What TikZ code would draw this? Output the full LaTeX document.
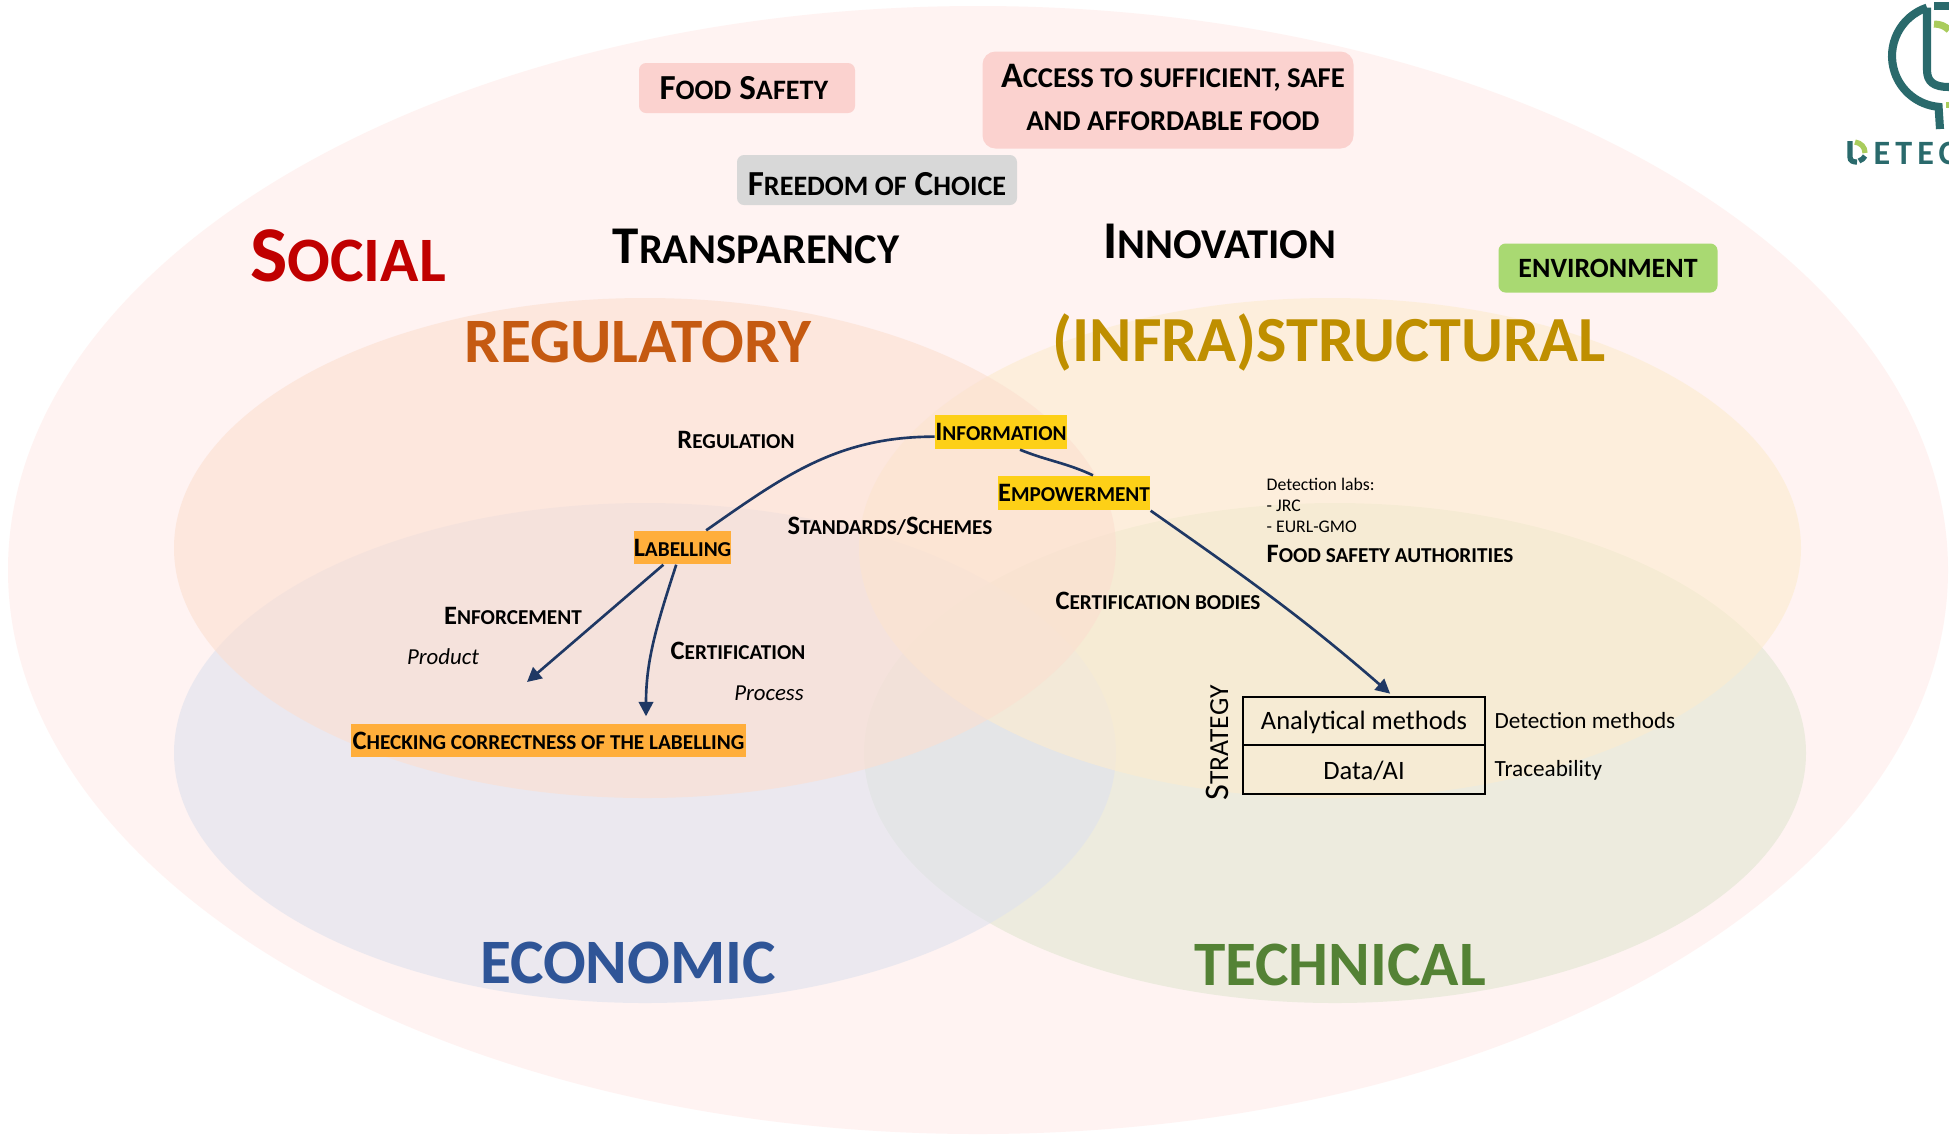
\documentclass[tikz,border=0pt]{standalone}
\usepackage{fontspec}
\setmainfont{Carlito}
\newfontfamily\lowfont[Scale=0.8]{Carlito}
\newfontfamily\logofont[LetterSpace=15]{Carlito}
\usetikzlibrary{arrows.meta}
\definecolor{navy}{HTML}{1F3864}
\definecolor{teal}{HTML}{2A6A6C}
\definecolor{leaf}{HTML}{A9CC5C}
\definecolor{wholeset}{HTML}{FFF3F2}
\definecolor{regset}{HTML}{FCDFD0}
\definecolor{infraset}{HTML}{FDECCE}
\definecolor{econset}{HTML}{DFE2EE}
\definecolor{techset}{HTML}{E1E6D1}
\definecolor{pinkbox}{HTML}{FBD2CF}
\definecolor{greybox}{HTML}{D8D8D8}
\definecolor{greenbox}{HTML}{A9D972}
\definecolor{yellowbox}{HTML}{FDD017}
\definecolor{orangebox}{HTML}{FFAE3B}
\definecolor{socialword}{HTML}{C00000}
\definecolor{regword}{HTML}{C55A11}
\definecolor{infraword}{HTML}{BF8F00}
\definecolor{econword}{HTML}{2F5597}
\definecolor{techword}{HTML}{548235}
\newcommand{\smc}[2]{#1{\lowfont\uppercase{#2}}}
\newcommand{\nudge}[2]{\raisebox{#1}[\height][\depth]{#2}}
\tikzset{
  bigword/.style={font=\bfseries\fontsize{18}{22}\selectfont},
  headword/.style={font=\bfseries\fontsize{15.1}{18}\selectfont},
  pillbox/.style={rounded corners=2pt,inner sep=0pt,font=\bfseries\fontsize{10}{12}\selectfont},
  tagbox/.style={inner sep=0pt,font=\bfseries\fontsize{7.55}{9}\selectfont},
  note/.style={inner sep=0pt,font=\bfseries\fontsize{7.55}{9}\selectfont},
  plainnote/.style={inner sep=0pt,font=\fontsize{5.05}{7}\selectfont},
  sidenote/.style={inner sep=0pt,anchor=west,font=\fontsize{6.6}{8}\selectfont},
  slantnote/.style={inner sep=0pt,font=\itshape\fontsize{6.5}{8}\selectfont},
  cellbox/.style={draw,line width=.45pt,minimum width=242*0.1mm,minimum height=48.5*0.1mm,inner sep=0pt,font=\fontsize{7.55}{9}\selectfont},
  flow/.style={draw=navy,line width=.75pt,-{Triangle[length=4.1pt,width=4.1pt]}},
  link/.style={draw=navy,line width=.75pt}
}
\begin{document}
\begin{tikzpicture}[x=0.1mm,y=-0.1mm]
\useasboundingbox (0,0) rectangle (1949,1135);
% sets
\fill[white] (0,0) rectangle (1949,1135);
\fill[wholeset] (978,570) ellipse [x radius=970,y radius=564];
\fill[techset,fill opacity=.6] (1335,753) ellipse [x radius=471,y radius=250];
\fill[econset,fill opacity=.6] (645,753) ellipse [x radius=471,y radius=250];
\fill[infraset,fill opacity=.6] (1330,548) ellipse [x radius=471,y radius=250];
\fill[regset,fill opacity=.6] (645,548) ellipse [x radius=471,y radius=250];
% logo
\draw[teal,line width=2.3pt] (1927,7.6) arc (-108.3:-265:51) -- (1940,129);
\draw[teal,line width=2.3pt] (1927,7.6) -- (1927,70) .. controls (1927,82) and (1934,87) .. (1949,87);
\draw[teal,line width=2.3pt] (1934,6) -- (1949,6);
\draw[leaf,line width=2pt] (1934,24) .. controls (1940,24) and (1945,26) .. (1949,30);
\draw[leaf,line width=1.2pt] (1948,102) -- (1948,108);
\draw[teal,line width=1.5pt] (1850,141) -- (1850,157) .. controls (1850,161) and (1853,162) .. (1857,162);
\draw[teal,line width=1.5pt] (1859,161) .. controls (1862,160) and (1864,158) .. (1865,156);
\draw[leaf,line width=1.5pt] (1855,142) .. controls (1861,143) and (1865,147) .. (1865,153);
\node[anchor=west,inner sep=0pt,text=teal] (logoword) at (1873,153) {\logofont\bfseries\fontsize{9.7}{12}\selectfont ETEC};
% set names
\node[text=socialword,font=\bfseries\fontsize{22.5}{27}\selectfont] (social) at (348,256) {\smc{S}{ocial}};
\node[bigword,text=regword] (regulatory) at (638,342) {REGULATORY};
\node[bigword,font=\bfseries\fontsize{18.3}{22}\selectfont,text=infraword] (structural) at (1329,342) {(INFRA)STRUCTURAL};
\node[bigword,text=econword] (economic) at (628,963) {ECONOMIC};
\node[bigword,text=techword] (technical) at (1340,965) {TECHNICAL};
\node[headword] (transparency) at (756,246) {\smc{T}{ransparency}};
\node[headword] (innovation) at (1220,241) {\smc{I}{nnovation}};
% boxes on top
\node[pillbox,fill=pinkbox,minimum width=216*0.1mm,minimum height=50*0.1mm] (foodsafety) at (747,88) {\smc{F}{ood} \smc{S}{afety}\hspace*{1.8pt}};
\node[pillbox,fill=pinkbox,rounded corners=3.7pt,minimum width=371*0.1mm,minimum height=97*0.1mm,align=center,font=\bfseries\fontsize{10.2}{12.3}\selectfont] (access) at (1168,100) {\hspace*{2.8pt}\nudge{.7pt}{\smc{A}{ccess to sufficient, safe}}\\\hspace*{2.8pt}\nudge{.7pt}{\smc{}{and affordable food}}};
\node[pillbox,fill=greybox,minimum width=280*0.1mm,minimum height=50*0.1mm] (freedom) at (877,180) {\nudge{-1.05pt}{\smc{F}{reedom of} \smc{C}{hoice}}};
\node[pillbox,fill=greenbox,minimum width=219*0.1mm,minimum height=49*0.1mm,font=\bfseries\fontsize{7.95}{10}\selectfont] (environment) at (1608,268) {ENVIRONMENT};
\node[tagbox,fill=yellowbox,minimum width=130*0.1mm,minimum height=34*0.1mm] (information) at (1001,432) {\smc{I}{nformation}};
\node[tagbox,fill=yellowbox,minimum width=152*0.1mm,minimum height=34*0.1mm] (empowerment) at (1074,493) {\smc{E}{mpowerment}};
\node[tagbox,fill=orangebox,minimum width=97*0.1mm,minimum height=33*0.1mm] (labelling) at (682.5,547.5) {\smc{L}{abelling}};
\node[tagbox,fill=orangebox,minimum width=395*0.1mm,minimum height=33*0.1mm] (checking) at (548.5,740.5) {\smc{C}{hecking correctness of the labelling}};
% notes
\node[note] (regulation) at (736,440) {\smc{R}{egulation}};
\node[note] (standards) at (890,526) {\smc{S}{tandards/}\smc{S}{chemes}};
\node[note] (certification) at (738,651) {\smc{C}{ertification}};
\node[note] (bodies) at (1158,601) {\smc{C}{ertification bodies}};
\node[note] (enforcement) at (513,616) {\smc{E}{nforcement}};
\node[note,anchor=west] (authorities) at (1266,554) {\smc{F}{ood safety authorities}};
\node[slantnote] (product) at (443,657) {Product};
\node[slantnote] (process) at (769,693) {Process};
\node[plainnote,anchor=west] (labs) at (1266,484) {Detection labs:};
\node[plainnote,anchor=west] (jrc) at (1266,506) {- JRC};
\node[plainnote,anchor=west] (eurl) at (1266,527) {- EURL-GMO};
% strategy
\node[cellbox] (analytical) at (1364,721) {\nudge{-.35pt}{Analytical methods}};
\node[cellbox] (dataai) at (1364,769.5) {\nudge{-.35pt}{Data/AI}};
\node[inner sep=0pt,font=\fontsize{9.8}{12}\selectfont,rotate=90] (strategy) at (1217,743) {\smc{S}{trategy}};
\node[sidenote] (detection) at (1494,721) {Detection methods};
\node[sidenote] (traceability) at (1494,770) {Traceability};
% connectors
\coordinate (enforcetip) at (527,682);
\draw[link] (labelling.36) to[out=35,in=180] (information.184);
\draw[link] (information.-43) to[out=-22,in=155] (empowerment.43);
\draw[flow,shorten >=1pt] (empowerment.south east) to[out=-35,in=139] (analytical.41);
\draw[flow] (labelling.-138) -- (enforcetip);
\draw[flow,shorten >=2pt] (labelling.-110) to[out=-108,in=90] ([xshift=97.5*0.1mm]checking.north);
\end{tikzpicture}
\end{document}
